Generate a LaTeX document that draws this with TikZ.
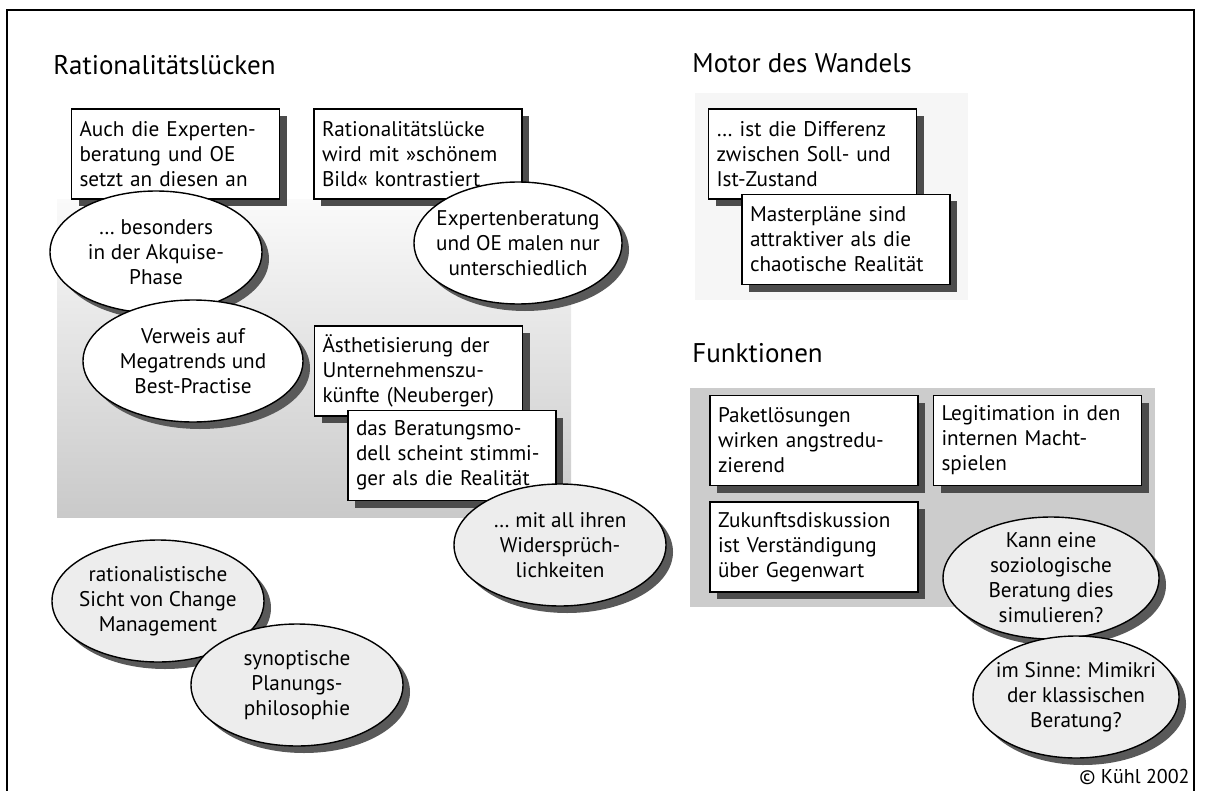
\documentclass[tikz,border=0pt]{standalone}
\usepackage{fontspec}
\setmainfont{PT Sans}
\usetikzlibrary{shapes.geometric, shadows}

\begin{document}
\begin{tikzpicture}[x=0.5pt, y=-0.5pt,
box/.style={draw, line width=0.7pt, fill=white, align=left, text width=96pt,
minimum height=45pt, inner xsep=4pt, inner ysep=3.5pt,
font=\fontsize{10.6}{12.5}\selectfont,
drop shadow={shadow xshift=3.5pt, shadow yshift=-3.5pt, fill=black!70, opacity=1}},
blob/.style={ellipse, draw, line width=0.7pt, fill=white, align=center,
minimum width=106pt, minimum height=61pt, inner sep=-12pt,
font=\fontsize{10.6}{12.5}\selectfont,
drop shadow={shadow xshift=3.5pt, shadow yshift=-3.5pt, fill=black!65, opacity=1}},
greyblob/.style={blob, fill=gray!14},
heading/.style={anchor=base west, inner sep=0pt, font=\fontsize{13.5}{16}\selectfont}]

\useasboundingbox (0,0) rectangle (1208,791);
\draw[line width=0.8pt] (7,791) -- (7,10) -- (1194,10) -- (1194,791);

% grey grounds
\shade[top color=gray!4, bottom color=gray!42] (57,200) rectangle (571,517);
\fill[gray!7] (695,93) rectangle (968,300);
\fill[gray!40] (690,388) rectangle (1155,607);

\node[heading] (ratTitle) at (53,75) {Rationalitätslücken};
\node[heading] (motorTitle) at (692,73) {Motor des Wandels};
\node[heading] (funkTitle) at (692,362) {Funktionen};

% Rationalitaetsluecken
\node[box] (expOE) at (175.5,154) {Auch die Experten-\\beratung und OE\\setzt an diesen an};
\node[box] (luecke) at (418,154) {Rationalitätslücke\\wird mit »schönem\\Bild« kontrastiert};
\node[blob] (akquise) at (156,252) {\ldots{} besonders\\in der Akquise-\\Phase};
\node[blob, minimum width=110pt] (mega) at (193,361) {Verweis auf\\Megatrends und\\Best-Practise};
\node[blob, minimum width=104pt] (malen) at (518,243) {Expertenberatung\\und OE malen nur\\unterschiedlich};
\node[box] (aesth) at (418.5,371) {Ästhetisierung der\\Unternehmenszu-\\künfte (Neuberger)};
\node[box] (modell) at (452,455.5) {das Beratungsmo-\\dell scheint stimmi-\\ger als die Realität};
\node[greyblob] (widerspr) at (560,545) {\ldots{} mit all ihren\\Widersprüch-\\lichkeiten};
\node[greyblob] (ratSicht) at (158,601) {rationalistische\\Sicht von Change\\Management};
\node[greyblob] (synopt) at (297,685) {synoptische\\Planungs-\\philosophie};

% Motor des Wandels
\node[box] (differenz) at (812.5,154) {\ldots{} ist die Differenz\\zwischen Soll- und\\Ist-Zustand};
\node[box] (master) at (846,239.5) {Masterpläne sind\\attraktiver als die\\chaotische Realität};

% Funktionen
\node[box] (paket) at (814,440.5) {Paketlösungen\\wirken angstredu-\\zierend};
\node[box] (macht) at (1037.5,440.5) {Legitimation in den\\internen Macht-\\spielen};
\node[box] (zukunft) at (814,547) {Zukunftsdiskussion\\ist Verständigung\\über Gegenwart};
\node[greyblob, minimum width=108pt] (simul) at (1051,578) {Kann eine\\soziologische\\Beratung dies\\simulieren?};
\node[greyblob, minimum width=103pt] (mimikri) at (1076,697) {im Sinne: Mimikri\\der klassischen\\Beratung?};

\node[anchor=base east, inner sep=0pt, font=\fontsize{10}{12}\selectfont] (copyr) at (1190,783) {© Kühl 2002};

\end{tikzpicture}
\end{document}
